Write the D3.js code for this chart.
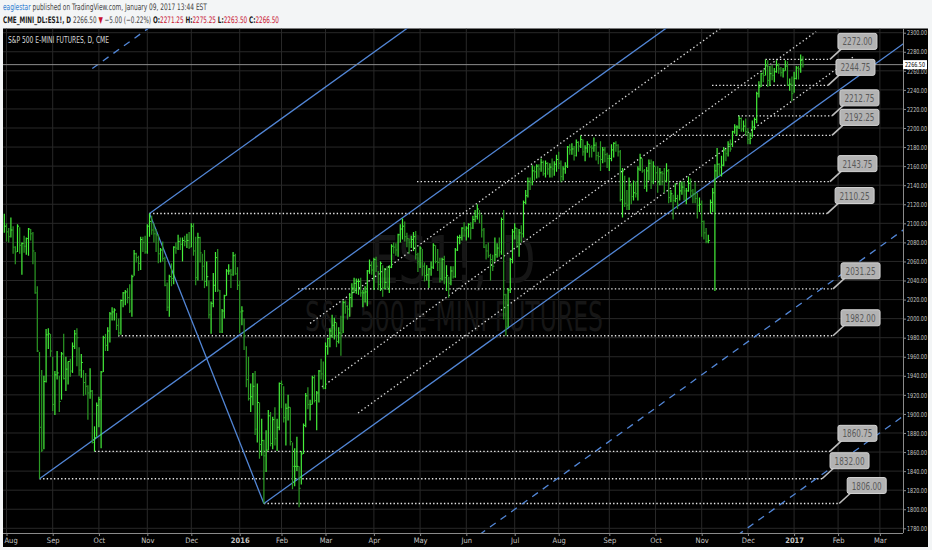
<!DOCTYPE html>
<html>
<head>
<meta charset="utf-8">
<script src="https://cdn.jsdelivr.net/npm/d3@7"></script>
<style>
body { margin: 0; background: #f3f5f6; }
svg { display: block; }
</style>
</head>
<body>
<svg id="chart" width="932" height="550"></svg>
<script>
// ES1! daily bars, first bar = Jul 31 2015 (trading day index -1, Aug 3 2015 = 0)
var firstBarIdx = -1;

var barHigh = [
  2110,
  2100,2095,2106,2097,2076,2099,2096,2080,2087,2085,2095,2094,2091,2070,2034,1965,1946,1940,1989,1990,1984,
  1960,1945,1966,1940,1965,1984,1960,1955,1958,1975,1988,1990,1970,1963,1946,1943,1930,1948,1925,1887,1912,
  1918,1945,1982,1984,1991,2007,2012,2011,2006,2000,2020,2028,2030,2032,2036,2046,2072,2069,2066,2086,2086,2087,
  2099,2110.25,2108,2100,2094,2088,2074,2081,2065,2038,2046,2058,2076,2080,2088,2085,2085,2087,2089,2091,
  2100,2100,2086,2090,2086,2068,2072,2060,2040,2018,2048,2070,2073,2030,2010,2025,2052,2057,2052,2070,2068,2054,
  2040,2013,2000,1971,1960,1932,1943,1945,1932,1912,1895,1873,1883,1904,1902,1897,1907,1895,1933,
  1935,1929,1911,1920,1907,1870,1864,1876,1845,1861,1890,1922,1928,1915,1940,1941,1924,1946,1958,1955,
  1975,1980,1990,2004,2001,1996,1991,2003,2019,2019,2014,2027,2037,2043,2042,2042,2043,2030,2034,2051,2062,2060,
  2064,2065,2050,2060,2056,2053,2055,2056,2078,2080,2079,2089,2099,2105,2102,2090,2084,2087,2091,2092,2069,
  2076,2073,2059,2056,2053,2060,2079,2077,2073,2064,2064,2066,2056,2044,2055,2055,2074,2087,2088,2096,2101,
  2097,2100,2101,2108,2114,2120,2114,2109,2095,2078,2080,2068,2067,2085,2079,2085,2106,2114,2026,2032,2064,2094,
  2100,2095,2094,2098,2124,2135,2148,2148,2161,2160,2162,2162,2168,2166,2166,2164,2163,2168,2165,2172,
  2175,2166,2160,2164,2181,2183,2184,2181,2188,2186,2192.25,2188,2182,2186,2183,2182,2190,2185,2175,2186,2180,2180,2174,
  2172,2183,2185,2186,2183,2177,2158,2150,2135,2148,2142,2145,2144,2160,2173,2168,2157,2159,2167,2167,2165,
  2160,2160,2158,2155,2158,2163,2157,2135,2130,2142,2130,2143,2144,2144,2137,2149,2147,2136,2143,2132,2127,
  2124,2103,2095,2088,2125,2137,2162,2179,2163,2171,2180,2178,2186,2188,2197,2204,2203,2212.75,2211,2208,2210,
  2200,2195,2208,2211,2238,2249,2258,2261,2272,2271,2265,2266,2263,2271,2268,2264,2263,2271,2270,2252,2254,
  2259,2265,2265,2277,2275.25
];

var barLow = [
  2090,
  2081,2080,2085,2068,2057,2070,2068,2046,2069,2067,2066,2082,2057,2026,1965,1832,1860,1863,1933,1968,1960,
  1903,1899,1936,1902,1915,1936,1924,1931,1939,1943,1968,1950,1940,1938,1919,1920,1894,1916,1869,1860.75,1876,
  1886,1864,1944,1966,1966,1975,1998,1998,1988,1982,1983,2012,2014,2016,2006,2002,2045,2059,2050,2051,2070,2068,
  2068,2086,2088,2080,2070,2058,2059,2060,2034,2008,2002,2034,2036,2068,2072,2072,2060,2076,2074,2073,
  2075,2066,2035,2040,2059,2040,2032,2034,2000,1984,2012,2028,2028,1985,1985,2000,2024,2046,2032,2045,2046,2030,
  1985,1993,1967,1928,1914,1902,1909,1878,1870,1853,1856,1806,1839,1862,1866,1863,1867,1861,1883,
  1906,1891,1867,1893,1867,1821,1824,1840,1802,1826,1858,1886,1905,1893,1910,1912,1883,1912,1936,1926,
  1926,1962,1970,1980,1978,1970,1974,1961,1985,2005,1999,2002,2012,2027,2026,2025,2023,2012,2017,2013,2047,2046,
  2030,2049,2030,2029,2023,2031,2030,2027,2053,2068,2066,2065,2080,2083,2081,2075,2068,2074,2071,2062,2049,
  2053,2045,2039,2040,2032,2045,2052,2058,2050,2038,2040,2036,2029,2022,2035,2042,2043,2071,2078,2082,2086,
  2082,2085,2083,2094,2101,2104,2100,2085,2074,2062,2064,2040,2050,2060,2064,2065,2067,1999,1982,1991,2027,2058,
  2083,2074,2065,2080,2085,2120,2127,2135,2140,2145,2147,2148,2154,2150,2148,2151,2148,2148,2150,2154,
  2157,2143,2145,2152,2158,2172,2172,2166,2170,2175,2179,2171,2165,2174,2169,2169,2175,2166,2162,2155,2163,2164,2158,
  2155,2165,2169,2175,2170,2123,2106,2117,2114,2114,2120,2124,2127,2124,2155,2153,2136,2133,2145,2136,2141,
  2145,2132,2140,2140,2132,2143,2121,2122,2104,2122,2115,2124,2130,2124,2120,2133,2127,2121,2121,2105,2112,
  2086,2083,2079,2079,2110,2112,2029,2148,2150,2149,2160,2165,2170,2175,2180,2194,2192,2199,2196,2196,2192,
  2183,2183,2190,2198,2205,2232,2243,2248,2255,2243,2244,2250,2248,2258,2257,2254,2253,2260,2244,2239,2228,
  2237,2251,2251,2258,2263.5
];

var barClose = [
  2097,
  2091,2086,2093,2075,2070,2097,2077,2079,2076,2084,2094,2089,2071,2027,1966,1886,1862,1934,1983,1984,1966,
  1910,1941,1943,1913,1963,1937,1947,1955,1945,1971,1984,1980,1946,1954,1933,1929,1922,1924,1870,1875,1909,
  1915,1944,1980,1972,1987,2005,2007,2009,1993,1985,2019,2027,2028,2022,2008,2044,2068,2064,2058,2083,2080,2070,
  2097,2102,2093,2089,2088,2068,2072,2063,2035,2012,2044,2042,2075,2074,2081,2078,2082,2081,2082,2075,
  2097,2071,2043,2085,2069,2055,2039,2044,2004,2016,2035,2064,2030,1986,2008,2024,2050,2050,2046,2066,2047,2035,
  2007,2008,1982,1936,1916,1918,1929,1884,1912,1868,1872,1856,1862,1898,1869,1894,1874,1886,1932,
  1931,1896,1906,1907,1871,1845,1845,1845,1822,1858,1888,1919,1910,1910,1938,1914,1922,1945,1942,1927,
  1971,1979,1987,1993,1996,1976,1985,1984,2017,2013,2010,2022,2032,2037,2039,2039,2027,2027,2028,2050,2056,2051,
  2062,2055,2036,2058,2032,2038,2033,2054,2076,2075,2072,2088,2094,2097,2086,2084,2080,2083,2086,2067,2060,
  2074,2055,2045,2046,2052,2054,2077,2060,2059,2042,2062,2043,2045,2037,2050,2044,2072,2085,2085,2095,2093,
  2095,2099,2095,2104,2107,2115,2110,2093,2075,2071,2066,2062,2055,2067,2074,2070,2104,2025,1991,2030,2062,2091,
  2095,2080,2090,2089,2122,2129,2144,2143,2155,2154,2160,2157,2164,2152,2163,2157,2159,2157,2162,2167,
  2163,2149,2157,2160,2180,2177,2178,2171,2185,2181,2188,2175,2179,2183,2180,2179,2182,2171,2170,2167,2177,2172,2168,
  2168,2177,2184,2182,2175,2125,2155,2121,2119,2140,2128,2132,2131,2157,2168,2155,2139,2155,2163,2144,2160,
  2153,2143,2153,2152,2145,2155,2127,2131,2124,2126,2120,2134,2138,2134,2134,2142,2134,2131,2126,2119,2120,
  2102,2090,2081,2082,2122,2132,2155,2162,2159,2161,2177,2173,2183,2178,2196,2201,2201,2210,2199,2202,2196,
  2188,2189,2201,2209,2236,2243,2257,2255,2266,2250,2257,2255,2259,2266,2262,2258,2260,2265,2245,2246,2236,
  2252,2263,2262,2271,2266.5
];

// month ticks (trading day index of first session of the month)
var monthTickIdx = [0, 21, 42, 64, 84, 106, 125, 145, 167, 188, 209, 231, 251, 274, 295, 316, 337, 358, 378, 397];
var monthTickLabels = ["Aug", "Sep", "Oct", "Nov", "Dec", "2016", "Feb", "Mar", "Apr", "May", "Jun",
                       "Jul", "Aug", "Sep", "Oct", "Nov", "Dec", "2017", "Feb", "Mar"];
var priceTicks = [1780, 1800, 1820, 1840, 1860, 1880, 1900, 1920, 1940, 1960, 1980, 2000, 2020, 2040,
                  2060, 2080, 2100, 2120, 2140, 2160, 2180, 2200, 2220, 2240, 2260, 2280, 2300];

// horizontal levels with callouts
var levelPrice = [2272.00, 2244.75, 2212.75, 2192.25, 2143.75, 2110.25, 2031.25, 1982.00, 1860.75, 1832.00, 1806.00];
var levelStartIdx = [345, 320.7, 332.5, 261, 186.6, 65, 132.5, 50.7, 40, 15, 117];
var levelEndIdx = [374.3, 373.4, 375.2, 375.2, 374.3, 373, 375.7, 375.7, 374.3, 370.7, 378.5];

// pitchfork pivots A, B, C
var pivotIdx = [15, 65, 117];
var pivotPrice = [1832.00, 2110.25, 1806.00];
var forkLevelsUp = [2];
var forkLevelsDown = [2, 3];

// dotted parallel channel lines
var channelStartIdx = [138, 143.4, 159.8];
var channelStartPrice = [1995, 1928.4, 1901];
var channelEndIdx = [340, 368, 385.7];

// header quote
var lastPrice = 2266.50;
var priceChange = -5.00;
var pctChange = -0.22;
var ohlcNames = ["O", "H", "L", "C"];
var ohlcValues = [2271.25, 2275.25, 2263.50, 2266.50];

var narrow = "'Liberation Sans Narrow','Arial Narrow','DejaVu Sans Condensed',sans-serif";
var fmt = d3.format(".2f");
var minus = s => s.replace("-", "\u2212");

var svg = d3.select("#chart");
var plot = {left: 3, right: 903, top: 28.5, bottom: 533};

var x = d3.scaleLinear().domain([0, 397]).range([6.5, 879.9]);
var y = d3.scaleLinear().domain([1780, 2300]).range([528.3, 32.7]);

// backgrounds
svg.append("rect").attr("width", 932).attr("height", 550).attr("fill", "#f3f5f6");
svg.append("rect").attr("x", plot.left).attr("y", plot.top)
  .attr("width", 928 - plot.left).attr("height", 547 - plot.top).attr("fill", "#000");

svg.append("clipPath").attr("id", "clip").append("rect")
  .attr("x", plot.left).attr("y", plot.top)
  .attr("width", plot.right - plot.left).attr("height", plot.bottom - plot.top);

var g = svg.append("g").attr("clip-path", "url(#clip)");

// grid
g.append("g").selectAll("line").data(priceTicks).join("line")
  .attr("x1", plot.left).attr("x2", plot.right)
  .attr("y1", d => y(d)).attr("y2", d => y(d))
  .attr("stroke", "#282828").attr("stroke-width", 1);
g.append("g").selectAll("line").data(monthTickIdx).join("line")
  .attr("x1", d => x(d)).attr("x2", d => x(d))
  .attr("y1", plot.top).attr("y2", plot.bottom)
  .attr("stroke", "#282828").attr("stroke-width", 1);

// watermark
g.append("text").attr("x", 453).attr("y", 283).attr("text-anchor", "middle")
  .attr("font-family", narrow).attr("font-size", 66).attr("textLength", 165)
  .attr("lengthAdjust", "spacingAndGlyphs").attr("fill", "#161616").text("ES1!, D");
g.append("text").attr("x", 454).attr("y", 331).attr("text-anchor", "middle")
  .attr("font-family", narrow).attr("font-size", 40).attr("textLength", 298)
  .attr("lengthAdjust", "spacingAndGlyphs").attr("fill", "#161616").text("S&P 500 E-MINI FUTURES");

// horizontal dotted levels
g.append("g").selectAll("line").data(levelPrice).join("line")
  .attr("x1", (d, i) => x(levelStartIdx[i])).attr("x2", (d, i) => x(levelEndIdx[i]))
  .attr("y1", d => y(d)).attr("y2", d => y(d))
  .attr("stroke", "#e8e8e8").attr("stroke-width", 1.4).attr("stroke-dasharray", "1.4,2.2");

// pitchfork geometry
var A = {i: pivotIdx[0], p: pivotPrice[0]};
var B = {i: pivotIdx[1], p: pivotPrice[1]};
var C = {i: pivotIdx[2], p: pivotPrice[2]};
var M = {i: (B.i + C.i) / 2, p: (B.p + C.p) / 2};
var slope = (M.p - A.p) / (M.i - A.i);
var farIdx = 420;
function ray(p) { return [p, {i: farIdx, p: p.p + slope * (farIdx - p.i)}]; }
function segment(p, endI) { return [p, {i: endI, p: p.p + slope * (endI - p.i)}]; }

var line = d3.line().x(d => x(d.i)).y(d => y(d.p));

// dotted parallel channel lines
g.append("g").selectAll("path").data(channelStartIdx).join("path")
  .attr("d", (d, k) => line(segment({i: d, p: channelStartPrice[k]}, channelEndIdx[k])))
  .attr("fill", "none").attr("stroke", "#dcdcdc").attr("stroke-width", 1.3)
  .attr("stroke-dasharray", "1.4,2.6");

// solid pitchfork lines: median, tines, handle B-C
var forkSolid = [ray(A), ray(B), ray(C), [B, C]];
g.append("g").selectAll("path").data(forkSolid).join("path")
  .attr("d", line).attr("fill", "none").attr("stroke", "#5286d6").attr("stroke-width", 1.3);

// dashed extension levels
var forkDashed = forkLevelsUp.map(k => ray({i: M.i + k * (B.i - M.i), p: M.p + k * (B.p - M.p)}))
  .concat(forkLevelsDown.map(k => ray({i: M.i + k * (C.i - M.i), p: M.p + k * (C.p - M.p)})));
g.append("g").selectAll("path").data(forkDashed).join("path")
  .attr("d", line).attr("fill", "none").attr("stroke", "#5286d6").attr("stroke-width", 1.3)
  .attr("stroke-dasharray", "7,6");

// last price line
g.append("line").attr("x1", plot.left).attr("x2", plot.right)
  .attr("y1", y(lastPrice)).attr("y2", y(lastPrice))
  .attr("stroke", "#8c8c8c").attr("stroke-width", 1);

// OHLC bars
var bars = barHigh.map((h, k) => ({
  i: firstBarIdx + k, h: h, l: barLow[k], c: barClose[k],
  up: k === 0 || barClose[k] >= barClose[k - 1]
}));
var barG = g.append("g");
barG.selectAll("line").data(bars).join("line")
  .attr("x1", d => x(d.i)).attr("x2", d => x(d.i))
  .attr("y1", d => y(d.h)).attr("y2", d => y(d.l))
  .attr("stroke", d => d.up ? "#45f03a" : "#2b9a24").attr("stroke-width", 1.2);
barG.selectAll("path").data(bars).join("path")
  .attr("d", d => "M" + x(d.i) + "," + y(d.c) + "h1.6")
  .attr("stroke", d => d.up ? "#45f03a" : "#2b9a24").attr("stroke-width", 1);

// callouts
var boxW = 39, boxH = 16;
var callouts = svg.append("g");
levelPrice.forEach(function(p, k) {
  var ex = x(levelEndIdx[k]), ey = y(p);
  var bx = ex + 8, by = ey - 26;
  callouts.append("line").attr("x1", bx + 4).attr("y1", by + boxH - 1).attr("x2", ex).attr("y2", ey)
    .attr("stroke", "#bdbdbd").attr("stroke-width", 1.6);
  callouts.append("rect").attr("x", bx).attr("y", by).attr("width", boxW).attr("height", boxH)
    .attr("rx", 2).attr("fill", "#b3b3b3").attr("stroke", "#d4d4d4").attr("stroke-width", 1);
  callouts.append("text").attr("x", bx + boxW / 2).attr("y", by + 12).attr("text-anchor", "middle")
    .attr("font-family", narrow).attr("font-size", 11).attr("textLength", 30)
    .attr("lengthAdjust", "spacingAndGlyphs").attr("fill", "#5a5a5a").text(fmt(p));
});

// axes
var yAxis = d3.axisRight(y).tickValues(priceTicks).tickFormat(fmt).tickSize(3).tickPadding(1);
svg.append("g").attr("transform", "translate(" + plot.right + ",0)").call(yAxis)
  .call(a => a.select(".domain").remove())
  .call(a => a.selectAll("line").attr("stroke", "#8a8a8a"))
  .call(a => a.selectAll("text").attr("fill", "#c4c4c4").attr("font-size", 6.8).attr("font-family", narrow)
    .attr("textLength", 20).attr("lengthAdjust", "spacingAndGlyphs"));

var xAxis = d3.axisBottom(x).tickValues(monthTickIdx).tickFormat((d, k) => monthTickLabels[k]).tickSize(3).tickPadding(1.5);
svg.append("g").attr("transform", "translate(0," + plot.bottom + ")").call(xAxis)
  .call(a => a.select(".domain").remove())
  .call(a => a.selectAll("line").attr("stroke", "#8a8a8a"))
  .call(a => a.selectAll("text").attr("fill", "#c4c4c4").attr("font-size", 7.5).attr("font-family", narrow)
    .attr("font-weight", (d, k) => /^\d+$/.test(monthTickLabels[k]) ? "bold" : "normal"))
  .call(a => a.selectAll(".tick").filter(d => x(d) < 10).select("text")
    .attr("text-anchor", "start").attr("x", plot.left - x(0) + 1));

svg.append("line").attr("x1", plot.right + 0.5).attr("x2", plot.right + 0.5)
  .attr("y1", plot.top).attr("y2", plot.bottom).attr("stroke", "#8a8a8a");
svg.append("line").attr("x1", plot.left).attr("x2", plot.right)
  .attr("y1", plot.bottom + 0.5).attr("y2", plot.bottom + 0.5).attr("stroke", "#8a8a8a");

// last price tag on the axis
svg.append("rect").attr("x", plot.right).attr("y", y(lastPrice) - 4.5).attr("width", 24).attr("height", 9)
  .attr("fill", "#fff");
svg.append("text").attr("x", plot.right + 2).attr("y", y(lastPrice) + 2.5)
  .attr("font-family", narrow).attr("font-size", 6.8).attr("textLength", 20).attr("lengthAdjust", "spacingAndGlyphs")
  .attr("fill", "#000").text(fmt(lastPrice));

// plot title
svg.append("text").attr("x", 8).attr("y", 43).attr("font-family", narrow).attr("font-size", 9)
  .attr("textLength", 101).attr("lengthAdjust", "spacingAndGlyphs").attr("fill", "#d8d8d8")
  .text("S&P 500 E-MINI FUTURES, D, CME");

// header: pieces laid out in a row, then squeezed to the published width
function headerRow(yPos, width, pieces) {
  var row = svg.append("g");
  var cx = 0;
  pieces.forEach(function(pc) {
    var t = row.append("text").attr("x", cx).attr("y", yPos).attr("font-family", narrow)
      .style("white-space", "pre").attr("xml:space", "preserve")
      .attr("font-size", 9).attr("fill", pc.c).attr("font-weight", pc.b ? "bold" : "normal").text(pc.t);
    cx += t.node().getComputedTextLength();
  });
  row.attr("transform", "translate(3,0) scale(" + (width / cx) + ",1)");
}

headerRow(10, 204, [
  {t: "eaglestar", c: "#2f7dd1"},
  {t: " published on TradingView.com, January 09, 2017 13:44 EST", c: "#444"}
]);

var row2 = [
  {t: "CME_MINI_DL:ES1!, D ", c: "#1c1c1c", b: true},
  {t: fmt(lastPrice) + " ", c: "#444"},
  {t: "\u25BC", c: "#c8102e"},
  {t: " " + minus(fmt(priceChange)) + " (" + minus(fmt(pctChange)) + "%) ", c: "#444"}
];
ohlcNames.forEach(function(n, k) {
  row2.push({t: n + ":", c: "#1c1c1c", b: true});
  row2.push({t: fmt(ohlcValues[k]) + (k < 3 ? " " : ""), c: "#c8102e"});
});
headerRow(23, 276, row2);
</script>
</body>
</html>
